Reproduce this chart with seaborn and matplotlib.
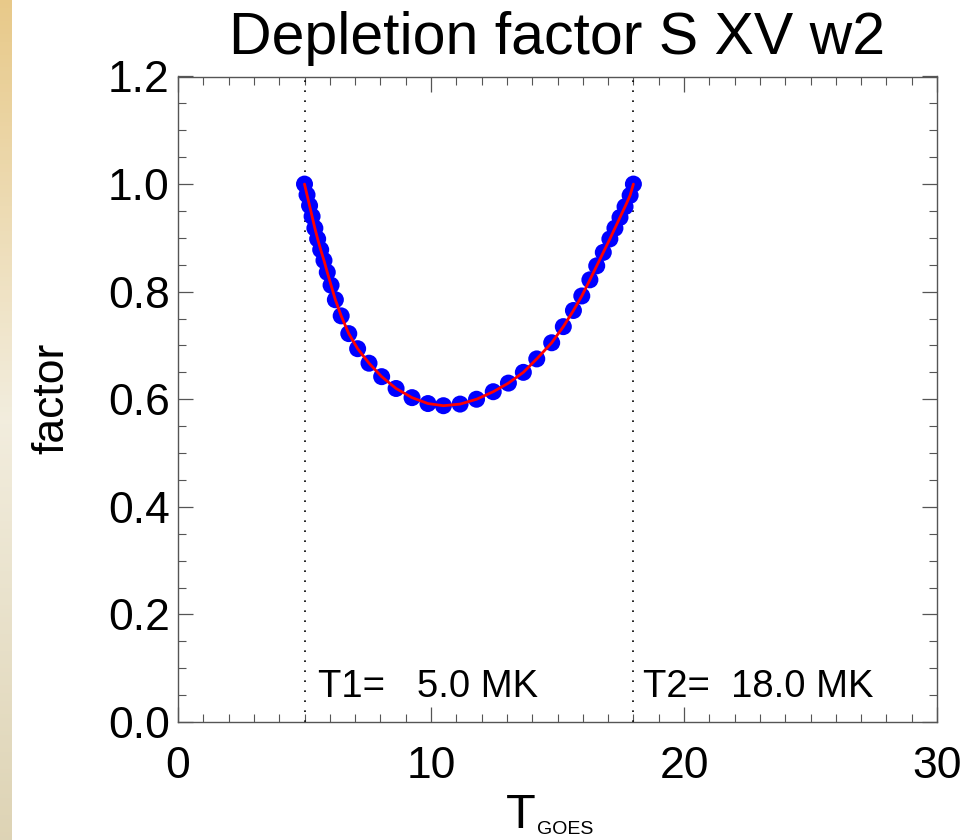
import numpy as np
import pandas as pd
import matplotlib
matplotlib.use("Agg")
import matplotlib.pyplot as plt
import seaborn as sns
from matplotlib.ticker import MultipleLocator

# ---- data ----
t_goes = [5.00, 5.10, 5.20, 5.30, 5.41, 5.52, 5.64, 5.77, 5.90, 6.05, 6.22, 6.45,
          6.75, 7.10, 7.55, 8.05, 8.62, 9.25, 9.88, 10.49, 11.15, 11.80, 12.46,
          13.06, 13.65, 14.18, 14.77, 15.23, 15.63, 15.96, 16.28, 16.55, 16.81,
          17.07, 17.27, 17.47, 17.67, 17.87, 18.00]
factor = [1.000, 0.980, 0.960, 0.940, 0.918, 0.898, 0.878, 0.858, 0.836, 0.812,
          0.785, 0.755, 0.722, 0.694, 0.667, 0.642, 0.620, 0.603, 0.592, 0.588,
          0.591, 0.600, 0.614, 0.630, 0.650, 0.675, 0.705, 0.735, 0.765, 0.792,
          0.822, 0.848, 0.873, 0.898, 0.918, 0.938, 0.958, 0.979, 1.000]
t1 = 5.0
t2 = 18.0
title = "Depletion factor S XV w2"
ylabel = "factor"

df = pd.DataFrame({"T": t_goes, "factor": factor})

sns.set_theme(style="ticks")
plt.rcParams['font.family'] = ['Liberation Sans', 'DejaVu Sans']
plt.rcParams['text.color'] = 'black'
plt.rcParams['axes.labelcolor'] = 'black'

fig = plt.figure(figsize=(9.77, 8.40), dpi=100)
fig.patch.set_facecolor("white")

# left decorative gradient strip
gax = fig.add_axes([0, 0, 12/977, 1])
cols = np.array([[0.91, 0.79, 0.54], [0.95, 0.93, 0.87], [0.87, 0.83, 0.71]])
pos = np.linspace(0, 1, 200)
r = np.interp(pos, [0, 0.5, 1], cols[:, 0])
g = np.interp(pos, [0, 0.5, 1], cols[:, 1])
b = np.interp(pos, [0, 0.5, 1], cols[:, 2])
grad = np.stack([r, g, b], axis=1)[:, None, :]
gax.imshow(grad, aspect="auto", extent=[0, 1, 0, 1])
gax.axis("off")

ax = fig.add_axes([178/977, 1 - 722/840, (937-178)/977, (722-76.5)/840])
ax.set_facecolor("white")

sns.scatterplot(data=df, x="T", y="factor", ax=ax, color="#0000ff", s=150,
                edgecolor="none", zorder=3, legend=False)
sns.lineplot(data=df, x="T", y="factor", ax=ax, color="#ff0000", lw=2.0,
             sort=False, zorder=4, legend=False)

ax.axvline(t1, color="black", ls=(0, (1, 5)), lw=1.2, zorder=2)
ax.axvline(t2, color="black", ls=(0, (1, 5)), lw=1.2, zorder=2)

ax.set_xlim(0, 30)
ax.set_ylim(0, 1.2)
ax.xaxis.set_major_locator(MultipleLocator(10))
ax.xaxis.set_minor_locator(MultipleLocator(1))
ax.yaxis.set_major_locator(MultipleLocator(0.2))
ax.yaxis.set_minor_locator(MultipleLocator(0.05))
ax.yaxis.set_major_formatter(matplotlib.ticker.FormatStrFormatter("%.1f"))

for sp in ax.spines.values():
    sp.set_color("#555555")
    sp.set_linewidth(1.0)
ax.tick_params(which="both", direction="in", top=True, right=True,
               colors="#555555", labelcolor="black")
ax.tick_params(which="major", length=10.5, width=0.9, labelsize=32)
ax.tick_params(axis="y", which="major", pad=6)
ax.tick_params(axis="x", which="major", pad=17.5)
ax.tick_params(which="minor", length=5.5, width=0.8)

ax.set_xlabel("")
ax.set_ylabel("")
fig.text(52/977, 1 - 398/840, ylabel, fontsize=32, rotation=90,
         ha="center", va="center")
ax.set_title(title, fontsize=42.5, pad=16, color="black")

ax.text(t1 + 0.52, 0.046, "T1=   %.1f MK" % t1, fontsize=27.5, ha="left", va="baseline")
ax.text(t2 + 0.38, 0.046, "T2=  %.1f MK" % t2, fontsize=27.5, ha="left", va="baseline")

fig.text(521/977, 1 - 815/840, "T", fontsize=35, ha="center", va="center")
fig.text(565/977, 1 - 830/840, "GOES", fontsize=14, ha="center", va="center")

fig.savefig("out.png", dpi=100, facecolor="white")
